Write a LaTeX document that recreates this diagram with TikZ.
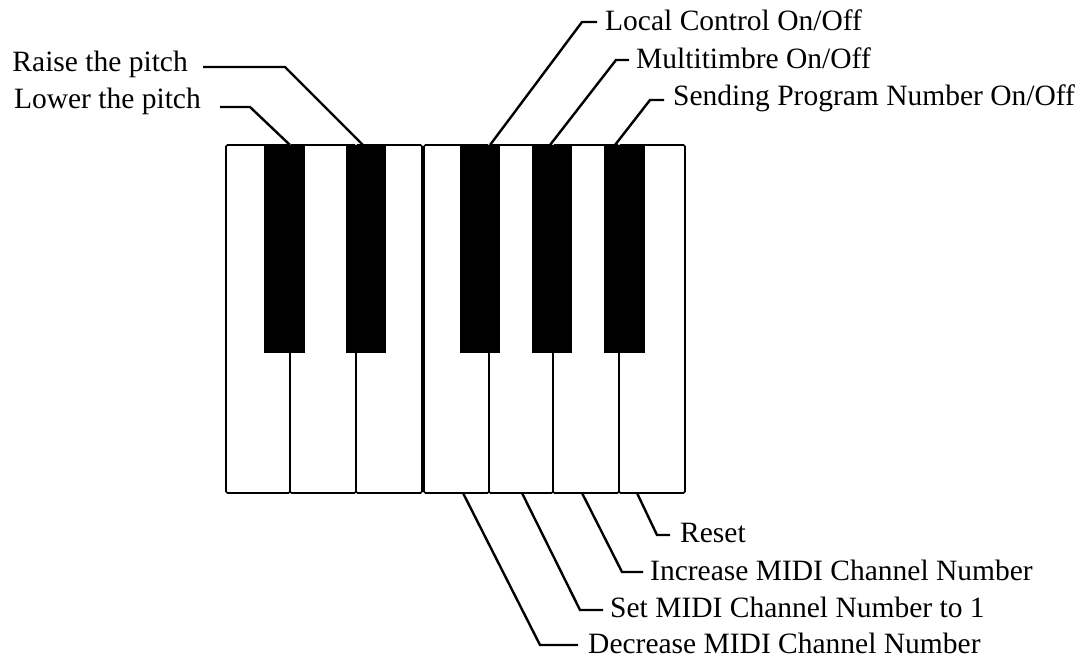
\documentclass[tikz,border=0pt]{standalone}
\usepackage{fontspec}
\setmainfont{Liberation Serif}
\begin{document}
\begin{tikzpicture}[x=1pt,y=-1pt,
  wk/.style={draw,line width=1.6pt,rounded corners=1.5pt,fill=white},
  bk/.style={fill=black},
  ld/.style={line width=2.4pt},
  lb/.style={font=\fontsize{29.5}{34}\selectfont,inner sep=0pt}]
\useasboundingbox (0,0) rectangle (1087,662);
\foreach \a/\b [count=\i] in {226/290,290/356,356/422,424/489,489/553,553/619,619/685}
  \draw[wk] (\a,145) rectangle (\b,493);
\foreach \a/\b in {264/305,346/386,460/500,532/572,604/645}
  \fill[bk] (\a,145) rectangle (\b,353);
\node[lb,anchor=east] (raise) at (188,64) {Raise the pitch};
\node[lb,anchor=east] (lower) at (201,101) {Lower the pitch};
\node[lb,anchor=west] (local) at (605,20) {Local Control On/Off};
\node[lb,anchor=west] (multi) at (636,58) {Multitimbre On/Off};
\node[lb,anchor=west] (send) at (673,98) {Sending Program Number On/Off};
\node[lb,anchor=west] (reset) at (680,533) {Reset};
\node[lb,anchor=west] (inc) at (650,570) {Increase MIDI Channel Number};
\node[lb,anchor=west] (set) at (610,607) {Set MIDI Channel Number to 1};
\node[lb,anchor=west] (dec) at (588,643) {Decrease MIDI Channel Number};
\coordinate (k1) at (290,145); \coordinate (k2) at (363,145);
\coordinate (k3) at (490,145); \coordinate (k4) at (550,145); \coordinate (k5) at (615,145);
\coordinate (b1) at (463,493); \coordinate (b2) at (522,493);
\coordinate (b3) at (582,493); \coordinate (b4) at (637,493);
\draw[ld] (203,67) -- (285,67) -- (k2);
\draw[ld] (220,107) -- (250,107) -- (k1);
\draw[ld] (597,22) -- (582,22) -- (k3);
\draw[ld] (629,60) -- (616,60) -- (k4);
\draw[ld] (664,100) -- (650,100) -- (k5);
\draw[ld] (b4) -- (657,535) -- (670,535);
\draw[ld] (b3) -- (622,572) -- (643,572);
\draw[ld] (b2) -- (580,610) -- (603,610);
\draw[ld] (b1) -- (540,645) -- (578,645);
\end{tikzpicture}
\end{document}
